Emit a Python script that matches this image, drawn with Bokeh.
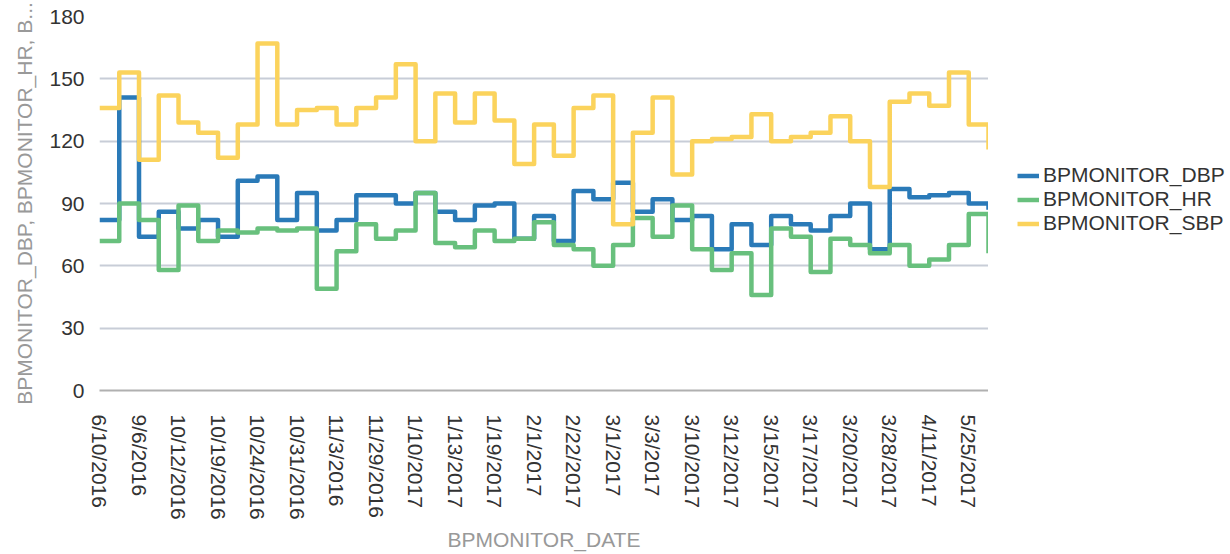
import math
from bokeh.plotting import figure
from bokeh.layouts import row
from bokeh.models import Range1d, FixedTicker, Legend, LegendItem
from bokeh.embed import file_html
from bokeh.resources import INLINE

# ---- data ----
tick_labels = ["6/10/2016", "9/6/2016", "10/12/2016", "10/19/2016", "10/24/2016",
               "10/31/2016", "11/3/2016", "11/29/2016", "1/10/2017", "1/13/2017",
               "1/19/2017", "2/1/2017", "2/22/2017", "3/1/2017", "3/3/2017",
               "3/10/2017", "3/12/2017", "3/15/2017", "3/17/2017", "3/20/2017",
               "3/28/2017", "4/11/2017", "5/25/2017"]
dbp = [82, 141, 74, 86, 78, 82, 74, 101, 103, 82, 95, 77, 82, 94, 94, 90, 95, 86, 82, 89,
       90, 73, 84, 72, 96, 92, 100, 86, 92, 82, 84, 68, 80, 70, 84, 80, 77, 84, 90, 68,
       97, 93, 94, 95, 90, 87]
hr = [72, 90, 82, 58, 89, 72, 77, 76, 78, 77, 78, 49, 67, 80, 73, 77, 95, 71, 69, 77,
      72, 73, 81, 70, 68, 60, 70, 83, 74, 89, 68, 58, 66, 46, 78, 74, 57, 73, 70, 66,
      70, 60, 63, 70, 85, 66]
sbp = [136, 153, 111, 142, 129, 124, 112, 128, 167, 128, 135, 136, 128, 136, 141, 157,
       120, 143, 129, 143, 130, 109, 128, 113, 136, 142, 80, 124, 141, 104, 120, 121,
       122, 133, 120, 122, 124, 132, 120, 98, 139, 143, 137, 153, 128, 116]
series_names = ["BPMONITOR_DBP", "BPMONITOR_HR", "BPMONITOR_SBP"]
y_ticks = [0, 30, 60, 90, 120, 150, 180]

x = list(range(len(dbp)))
label_positions = list(range(0, len(dbp), 2))[:len(tick_labels)]

FONT = "Liberation Sans"
colors = ["#2a7ab8", "#68c07d", "#fbd35c"]
LW = 4.5

# ---- main chart ----
p = figure(frame_width=889, frame_height=374, output_backend="svg", toolbar_location=None,
           x_range=Range1d(0, len(dbp) - 1), y_range=Range1d(0, 180),
           min_border_left=99, min_border_top=16, min_border_bottom=164,
           min_border_right=0)
p.outline_line_color = None
p.background_fill_color = "white"
p.border_fill_color = "white"

for vals, c in zip([dbp, hr, sbp], colors):
    p.step(x, vals, mode="after", line_color=c, line_width=LW, line_join="round")

p.xgrid.grid_line_color = None
p.ygrid.grid_line_color = "#c8cdd7"
p.ygrid.grid_line_width = 2
p.yaxis.ticker = FixedTicker(ticks=y_ticks)
p.xaxis.ticker = FixedTicker(ticks=label_positions)
p.xaxis.major_label_overrides = {pos: lab for pos, lab in zip(label_positions, tick_labels)}
p.xaxis.major_label_orientation = -math.pi / 2

for ax in (p.xaxis[0], p.yaxis[0]):
    ax.major_tick_line_color = None
    ax.minor_tick_line_color = None
    ax.major_label_text_font = FONT
    ax.major_label_text_font_size = "21px"
    ax.major_label_text_color = "#333333"
    ax.axis_label_text_font = FONT
    ax.axis_label_text_font_size = "21px"
    ax.axis_label_text_font_style = "normal"
    ax.axis_label_text_color = "#999999"

p.yaxis.axis_line_color = None
p.xaxis.axis_line_color = "#b0b0b0"
p.xaxis.axis_line_width = 2
p.yaxis.major_label_standoff = 9
p.xaxis.major_label_standoff = 18
p.yaxis.axis_label = "BPMONITOR_DBP, BPMONITOR_HR, B..."
p.xaxis.axis_label = "BPMONITOR_DATE"
p.yaxis.axis_label_standoff = 10
p.xaxis.axis_label_standoff = 5

# ---- legend panel (to the right of the chart) ----
# its ranges keep the series themselves out of view; only the legend keys show
lp = figure(width=242, height=554, output_backend="svg", toolbar_location=None,
            x_axis_type=None, y_axis_type=None, min_border=0,
            x_range=Range1d(0, 1), y_range=Range1d(0, 1))
lp.outline_line_color = None
lp.xgrid.grid_line_color = None
lp.ygrid.grid_line_color = None
lp.background_fill_color = "white"
lp.border_fill_color = "white"
key_renderers = [lp.step(x, vals, mode="after", line_color=c, line_width=LW)
                 for vals, c in zip([dbp, hr, sbp], colors)]

legend = Legend(items=[LegendItem(label=n, renderers=[r]) for n, r in zip(series_names, key_renderers)],
                location=(29, 155))
legend.label_text_font = FONT
legend.label_text_font_size = "21px"
legend.label_text_color = "#333333"
legend.label_text_line_height = 1.0
legend.glyph_width = 22
legend.glyph_height = 21
legend.label_height = 21
legend.spacing = 0
legend.padding = 0
legend.margin = 0
legend.label_standoff = 4
legend.border_line_color = None
legend.background_fill_alpha = 0
lp.add_layout(legend, "center")

layout = row(p, lp, spacing=0)
open("out.html", "w").write(file_html(layout, INLINE))
